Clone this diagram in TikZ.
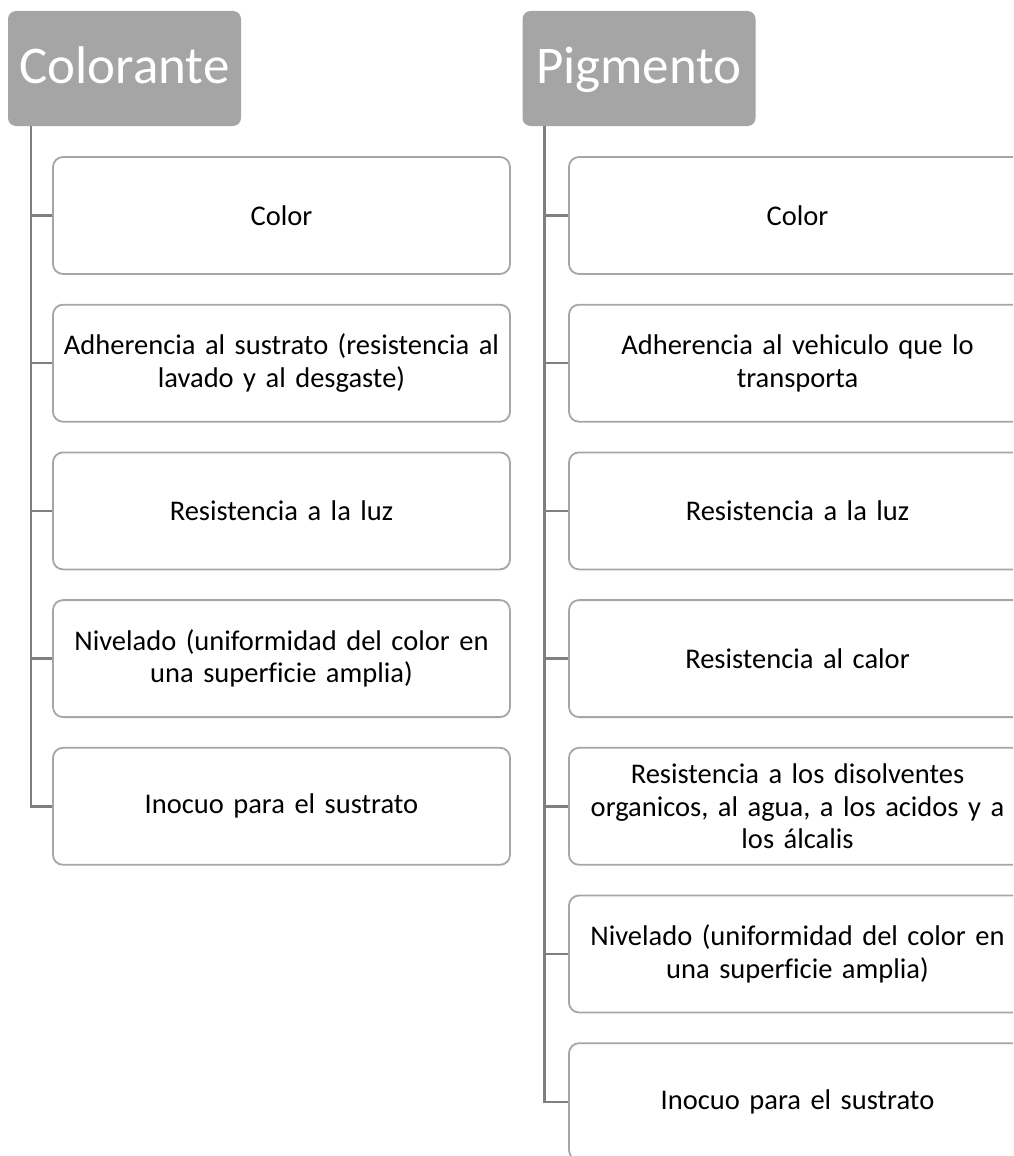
\documentclass[tikz,border=0pt]{standalone}
\usepackage{fontspec}
\setmainfont{Carlito}[Ligatures=CommonOff]
\definecolor{hdrgray}{HTML}{A5A5A5}
\definecolor{boxgray}{HTML}{A6A6A6}
\definecolor{linegray}{HTML}{7F7F7F}
\tikzset{
  hdr/.style={fill=hdrgray, draw=none, rounded corners=8pt, minimum width=233pt, minimum height=115pt, inner sep=0pt, text height=40pt, text depth=11pt, text=white, font=\fontsize{53}{60}\selectfont},
  itembox/.style={draw=boxgray, fill=white, line width=1.8pt, rounded corners=10pt, minimum width=457pt, minimum height=117pt, text width=445pt, align=center, inner sep=0pt, font=\fontsize{28.5}{32.5}\selectfont},
  conn/.style={draw=linegray, line width=2.4pt}
}
\begin{document}
\begin{tikzpicture}[x=1pt,y=-1pt]
\useasboundingbox (0,0) rectangle (1013,1156);
\clip (0,0) rectangle (1013,1156);
% headers
\node[hdr] (h1) at (124.5,68.5) {Colorante};
\node[hdr] (h2) at (639,68.5) {Pigmento};
% left column
\node[itembox] (a1) at (281.5,215.5) {Color};
\node[itembox] (a2) at (281.5,363.2) {Adherencia al sustrato (resistencia al\\lavado y al desgaste)};
\node[itembox] (a3) at (281.5,510.9) {Resistencia a la luz};
\node[itembox] (a4) at (281.5,658.6) {Nivelado (uniformidad del color en\\una superficie amplia)};
\node[itembox] (a5) at (281.5,806.3) {Inocuo para el sustrato};
% right column
\node[itembox] (b1) at (797.5,215.5) {Color};
\node[itembox] (b2) at (797.5,363.2) {Adherencia al vehiculo que lo\\transporta};
\node[itembox] (b3) at (797.5,510.9) {Resistencia a la luz};
\node[itembox] (b4) at (797.5,658.6) {Resistencia al calor};
\node[itembox] (b5) at (797.5,806.3) {Resistencia a los disolventes\\organicos, al agua, a los acidos y a\\los álcalis};
\node[itembox] (b6) at (797.5,954.0) {Nivelado (uniformidad del color en\\una superficie amplia)};
\node[itembox] (b7) at (797.5,1101.7) {Inocuo para el sustrato};
% connectors
\coordinate (t1) at ([xshift=23pt]h1.south west);
\coordinate (t2) at ([xshift=22pt]h2.south west);
\foreach \n in {a1,a2,a3,a4,a5}{\draw[conn] (t1) |- (\n.west);}
\foreach \n in {b1,b2,b3,b4,b5,b6,b7}{\draw[conn] (t2) |- (\n.west);}
\end{tikzpicture}
\end{document}
